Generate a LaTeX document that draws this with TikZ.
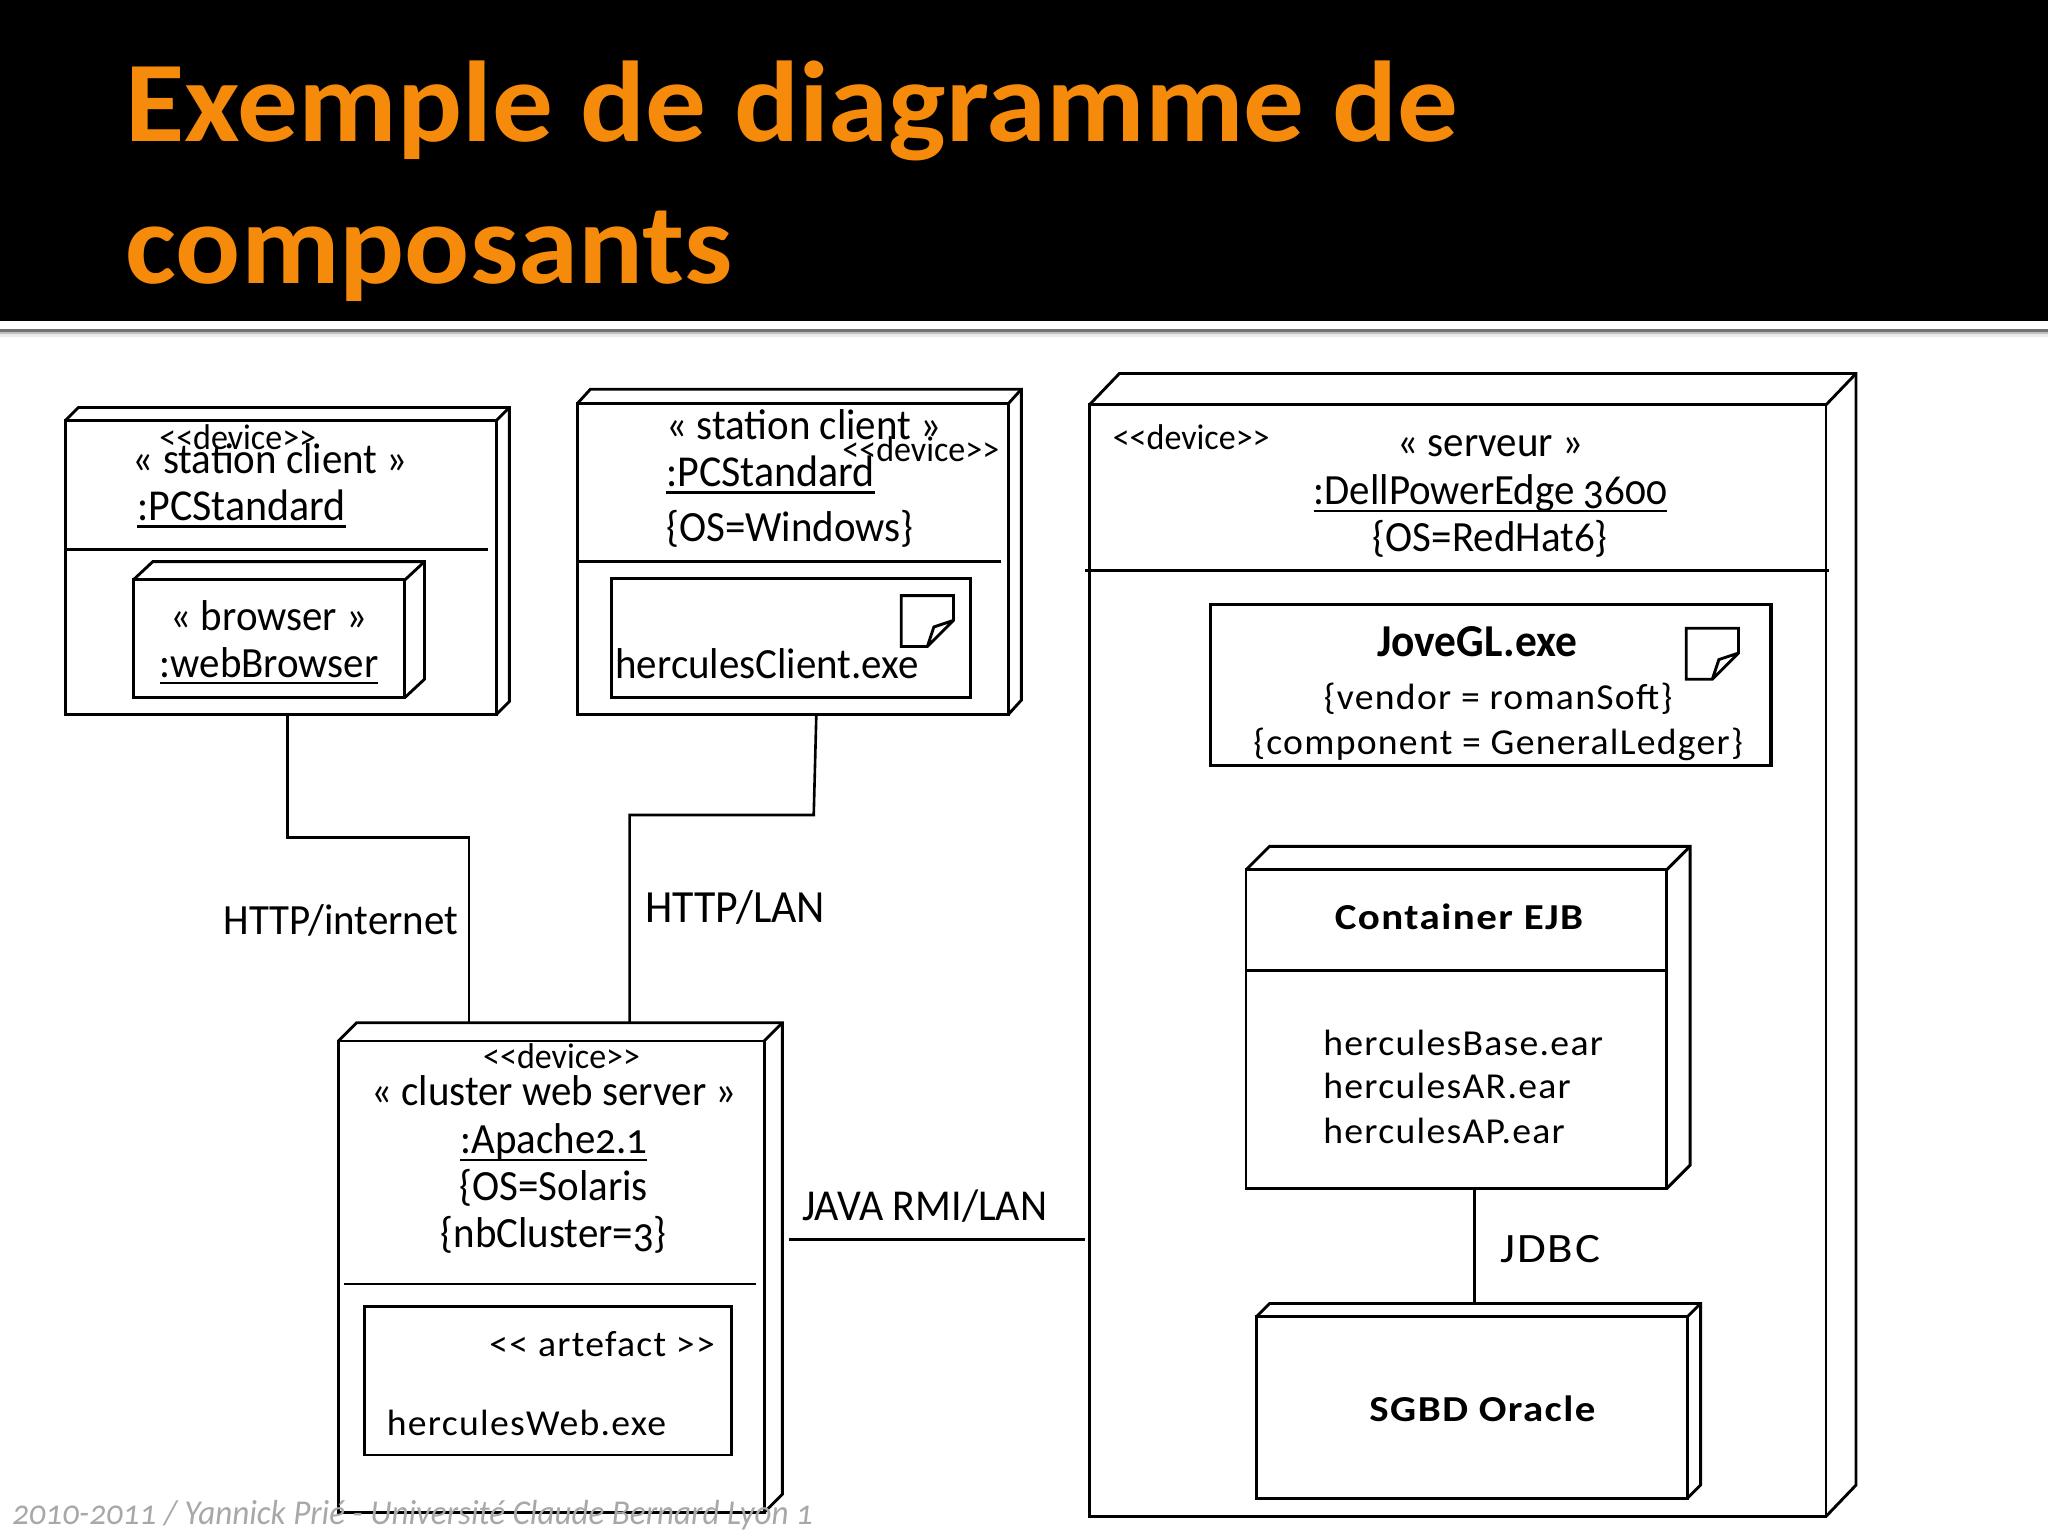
\documentclass[tikz,border=0pt]{standalone}
\usepackage{fontspec}
\setmainfont[FakeStretch=0.95,Numbers=OldStyle]{Carlito}
\newfontfamily\TitleFont[FakeStretch=1.055,Numbers=OldStyle]{Carlito}
\newfontfamily\WideFont[FakeStretch=1.03,LetterSpace=3.5,Numbers=OldStyle]{Carlito}
\newfontfamily\BroadFont[FakeStretch=1.12,LetterSpace=4,Numbers=OldStyle]{Carlito}
\definecolor{TitleOrange}{HTML}{F58A0B}
\definecolor{FootGray}{HTML}{A8A8A8}
\newcommand{\NameLine}[1]{\leavevmode\setbox0=\hbox{#1}\copy0\llap{\rule[-5.5pt]{\wd0}{1.8pt}}}
% x y w h dx dy : front face, then the top and the right face
\newcommand{\Cube}[7]{%
  \node[FrontStyle,minimum width=#4,minimum height=#5] (#1) at (#2,#3) {};
  \draw[FaceStyle] (#1.north west) -- ++(#6,-#7) coordinate (#1back) -- ++(#4,0) coordinate (#1corner)
    -- ++(0,#5) -- (#1.south east);
  \draw[FaceStyle] (#1.north east) -- (#1corner);
}
\newcommand{\DocIcon}[2]{%
  \draw[FaceStyle,shift={(#1,#2)}] (0,0) -- (40,0) -- (40,19) -- (20,39) -- (0,39) -- cycle
    (40,19) -- (25,24) -- (20,39);
}

\begin{document}
\begin{tikzpicture}[x=1pt,y=-1pt]
  \tikzstyle{FrontStyle}=[draw=black,fill=white,line width=2.2pt,anchor=north west,inner sep=0pt,outer sep=0pt]
  \tikzstyle{BoxStyle}=[draw=black,fill=white,line width=2.6pt,anchor=north west,inner sep=0pt,outer sep=0pt]
  \tikzstyle{FaceStyle}=[draw=black,line width=2.2pt,line join=miter]
  \tikzstyle{LinkStyle}=[draw=black,line width=2pt]
  \tikzstyle{TextStyle}=[inner sep=0pt,anchor=mid,yshift=-8pt,font=\fontsize{33}{40}\selectfont]
  \tikzstyle{LeftStyle}=[TextStyle,anchor=mid west]
  \tikzstyle{SmallStyle}=[TextStyle,font=\fontsize{27.4}{33}\selectfont]
  \tikzstyle{WideStyle}=[TextStyle,font=\WideFont\fontsize{28}{34}\selectfont]
  \tikzstyle{WideBold}=[TextStyle,font=\BroadFont\bfseries\fontsize{28}{34}\selectfont]
  \tikzstyle{TitleStyle}=[inner sep=0pt,anchor=base west,text=TitleOrange,font=\TitleFont\bfseries\fontsize{88}{110}\selectfont]
  \useasboundingbox (0,0) rectangle (1568,1176);
  \fill[white] (0,0) rectangle (1568,1176);
  \fill[black] (0,0) rectangle (1568,246);
  \fill[black!55] (0,252) rectangle (1568,254.5);
  \fill[black!25] (0,254.5) rectangle (1568,256);
  \fill[black!8] (0,256) rectangle (1568,258);
  \node[TitleStyle] (title1) at (96,108) {Exemple de diagramme de};
  \node[TitleStyle] (title2) at (96,217) {composants};

  \Cube{stationA}{50}{322}{330}{225}{10}{10}
  \Cube{stationB}{442}{309}{330}{238}{10}{11}
  \Cube{server}{834}{310}{564}{851}{23}{24}
  \Cube{cluster}{259}{797}{326}{361}{14}{14}

  \draw[FaceStyle] (50,421) coordinate (ruleA) -- (374,421);
  \draw[FaceStyle] (442,430) coordinate (ruleB) -- (766,430);
  \draw[FaceStyle] (831,437) coordinate (ruleC) -- (1400,437);
  \draw[FaceStyle] (263,983) coordinate (ruleD) -- (579,983);

  \Cube{browser}{102}{444}{208}{90}{15}{14}
  \node[TextStyle] (browsertype) at (206,472) {« browser »};
  \node[TextStyle] (browsername) at (206,508) {\NameLine{:webBrowser}};
  \node[SmallStyle] (deviceA) at (182,334) {<{}<device>{}>};
  \node[TextStyle] (typeA) at (207,352) {« station client »};
  \node[LeftStyle,font=\fontsize{33.8}{40}\selectfont] (nameA) at (105,388) {\NameLine{:PCStandard}};

  \node[LeftStyle] (typeB) at (510,326) {« station client »};
  \node[LeftStyle,font=\fontsize{33.8}{40}\selectfont] (nameB) at (510,362) {\NameLine{:PCStandard}};
  \node[SmallStyle] (deviceB) at (705,343) {<{}<device>{}>};
  \node[LeftStyle] (osB) at (510,404) {\{OS=Windows\}};
  \node[BoxStyle,minimum width=275,minimum height=91] (clientexe) at (468,443) {};
  \DocIcon{690}{456}
  \node[LeftStyle] (clientname) at (471,509) {herculesClient.exe};

  \node[SmallStyle] (deviceC) at (912,334) {<{}<device>{}>};
  \node[TextStyle] (typeC) at (1141,339) {« serveur »};
  \node[TextStyle] (nameC) at (1141,376) {\NameLine{:DellPowerEdge 3600}};
  \node[TextStyle] (osC) at (1141,412) {\{OS=RedHat6\}};
  \node[BoxStyle,minimum width=429,minimum height=123] (jovebox) at (927,463) {};
  \DocIcon{1291}{481}
  \node[TextStyle,font=\bfseries\fontsize{35}{42}\selectfont] (jovename) at (1131,492) {JoveGL.exe};
  \node[WideStyle] (vendor) at (1147,533) {\{vendor = romanSoft\}};
  \node[WideStyle] (component) at (1147,567) {\{component = GeneralLedger\}};

  \Cube{ejb}{954}{666}{322}{244}{18}{18}
  \draw[FaceStyle] (954,743) coordinate (ruleE) -- (1276,743);
  \node[WideBold] (ejbname) at (1117,701) {Container EJB};
  \node[WideStyle,anchor=mid west] (earbase) at (1013,798) {herculesBase.ear};
  \node[WideStyle,anchor=mid west] (earar) at (1013,831) {herculesAR.ear};
  \node[WideStyle,anchor=mid west] (earap) at (1013,865) {herculesAP.ear};
  \Cube{oracle}{962}{1008}{330}{139}{10}{10}
  \node[WideBold] (oraclename) at (1135,1078) {SGBD Oracle};

  \node[SmallStyle] (deviceD) at (430,808) {<{}<device>{}>};
  \node[TextStyle] (typeD) at (424,836) {« cluster web server »};
  \node[TextStyle] (nameD) at (424,873) {\NameLine{:Apache2.1}};
  \node[TextStyle] (osD) at (424,909) {\{OS=Solaris};
  \node[TextStyle] (nbD) at (424,945) {\{nbCluster=3\}};
  \node[BoxStyle,minimum width=281,minimum height=114,line width=2.2pt] (webexe) at (279,1000) {};
  \node[WideStyle] (artefact) at (461,1028) {<{}< artefact >{}>};
  \node[WideStyle,anchor=mid west] (webname) at (296,1089) {herculesWeb.exe};

  \coordinate (kneeA) at (220,641);
  \coordinate (kneeB) at (359,641);
  \coordinate (kneeC) at (623,624);
  \coordinate (kneeD) at (482,624);
  \coordinate (tapB) at (625,547);
  \coordinate (tapE) at (1129,910);
  \coordinate (tapF) at (604,949);
  \draw[LinkStyle] (stationA.south -| kneeA) -- (kneeA) -- (kneeB) -- (kneeB |- clusterback);
  \draw[LinkStyle] (tapB) -- (kneeC) -- (kneeD) -- (kneeD |- clusterback);
  \draw[LinkStyle] (tapF) -- (tapF -| ruleC);
  \draw[LinkStyle] (tapE) -- (tapE |- oracleback);
  \node[TextStyle] (linkA) at (261,705) {HTTP/internet};
  \node[TextStyle,font=\fontsize{35.3}{42}\selectfont] (linkB) at (563,696) {HTTP/LAN};
  \node[TextStyle,font=\fontsize{33.8}{40}\selectfont] (linkC) at (708,924) {JAVA RMI/LAN};
  \node[TextStyle,font=\BroadFont\fontsize{32}{38}\selectfont] (linkD) at (1187,956) {JDBC};

  \node[TextStyle,anchor=mid west,text=FootGray,font=\itshape\fontsize{26.7}{32}\selectfont] (foot) at (9,1157) {2010-2011 / Yannick Prié - Université Claude Bernard Lyon 1};
\end{tikzpicture}
\end{document}
